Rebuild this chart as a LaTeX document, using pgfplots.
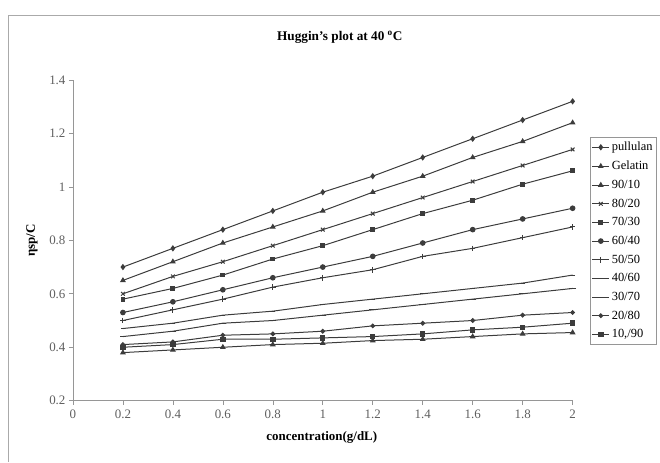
\documentclass[border=0pt]{standalone}
\usepackage{fontspec}
\setmainfont{Liberation Serif}
\usepackage{pgfplots}
\pgfplotsset{compat=1.18}
\definecolor{ln}{RGB}{60,60,60}
\definecolor{ax}{RGB}{150,150,150}
\definecolor{tk}{RGB}{95,95,95}
\definecolor{fr}{RGB}{170,170,170}

\begin{document}
\begin{tikzpicture}[x=1bp,y=1bp]
\path (0,0) rectangle (660,462);
% chart frame (cut at the right and bottom edges)
\draw[fr, line width=0.9bp] (8,0) -- (8,447) -- (660,447);
\begin{axis}[
    at={(73bp,61bp)}, anchor=south west,
    scale only axis, width=500bp, height=321bp,
    xmin=0, xmax=2, ymin=0.2, ymax=1.4,
    xtick={0,0.2,0.4,0.6,0.8,1,1.2,1.4,1.6,1.8,2},
    xticklabels={0,0.2,0.4,0.6,0.8,1,1.2,1.4,1.6,1.8,2},
    ytick={0.2,0.4,0.6,0.8,1,1.2,1.4},
    yticklabels={0.2,0.4,0.6,0.8,1,1.2,1.4},
    axis x line*=bottom, axis y line*=left,
    axis line style={ax, line width=0.6bp, -},
    tick style={ax, line width=0.6bp},
    tick align=outside, major tick length=4bp,
    tick label style={font=\fontsize{13}{15}\selectfont, text=tk},
    xticklabel style={yshift=-2bp},
    title={\textbf{Huggin's plot at 40 \textsuperscript{o}C}},
    title style={at={(0.534,1.115)}, anchor=center, font=\fontsize{13.3}{15}\selectfont},
    xlabel={\textbf{concentration(g/dL)}},
    xlabel style={at={(0.498,-0.115)}, anchor=center, font=\fontsize{13}{15}\selectfont},
    ylabel={\textbf{ηsp/C}},
    ylabel style={at={(-0.082,0.5)}, anchor=center, font=\fontsize{13}{15}\selectfont},
    every axis plot/.append style={ln, line width=1bp},
    legend cell align=left,
    legend style={at={(1.034,0.822)}, anchor=north west, draw=ax,
        font=\fontsize{12.5}{14}\selectfont, row sep=4.9bp,
        inner xsep=2bp, inner ysep=3bp},
]
\addplot[mark=diamond*, mark size=2.4bp] coordinates {
 (0.2,0.70) (0.4,0.77) (0.6,0.84) (0.8,0.91) (1.0,0.98) (1.2,1.04) (1.4,1.11) (1.6,1.18) (1.8,1.25) (2.0,1.32)};
\addlegendentry{pullulan}
\addplot[mark=triangle*, mark size=2.4bp] coordinates {
 (0.2,0.65) (0.4,0.72) (0.6,0.79) (0.8,0.85) (1.0,0.91) (1.2,0.98) (1.4,1.04) (1.6,1.11) (1.8,1.17) (2.0,1.24)};
\addlegendentry{Gelatin}
\addplot[mark=triangle*, mark size=2.4bp] coordinates {
 (0.2,0.38) (0.4,0.39) (0.6,0.40) (0.8,0.41) (1.0,0.415) (1.2,0.425) (1.4,0.43) (1.6,0.44) (1.8,0.45) (2.0,0.455)};
\addlegendentry{90/10}
\addplot[mark=x, mark size=2.6bp] coordinates {
 (0.2,0.60) (0.4,0.665) (0.6,0.72) (0.8,0.78) (1.0,0.84) (1.2,0.90) (1.4,0.96) (1.6,1.02) (1.8,1.08) (2.0,1.14)};
\addlegendentry{80/20}
\addplot[mark=square*, mark size=1.9bp] coordinates {
 (0.2,0.58) (0.4,0.62) (0.6,0.67) (0.8,0.73) (1.0,0.78) (1.2,0.84) (1.4,0.90) (1.6,0.95) (1.8,1.01) (2.0,1.06)};
\addlegendentry{70/30}
\addplot[mark=*, mark size=2.3bp] coordinates {
 (0.2,0.53) (0.4,0.57) (0.6,0.615) (0.8,0.66) (1.0,0.70) (1.2,0.74) (1.4,0.79) (1.6,0.84) (1.8,0.88) (2.0,0.92)};
\addlegendentry{60/40}
\addplot[mark=+, mark size=2.8bp] coordinates {
 (0.2,0.50) (0.4,0.54) (0.6,0.58) (0.8,0.625) (1.0,0.66) (1.2,0.69) (1.4,0.74) (1.6,0.77) (1.8,0.81) (2.0,0.85)};
\addlegendentry{50/50}
\addplot[mark=-, mark size=2.4bp] coordinates {
 (0.2,0.47) (0.4,0.49) (0.6,0.52) (0.8,0.535) (1.0,0.56) (1.2,0.58) (1.4,0.60) (1.6,0.62) (1.8,0.64) (2.0,0.67)};
\addlegendentry{40/60}
\addplot[mark=-, mark size=3.4bp] coordinates {
 (0.2,0.44) (0.4,0.46) (0.6,0.49) (0.8,0.50) (1.0,0.52) (1.2,0.54) (1.4,0.56) (1.6,0.58) (1.8,0.60) (2.0,0.62)};
\addlegendentry{30/70}
\addplot[mark=*, mark size=1.9bp] coordinates {
 (0.2,0.41) (0.4,0.42) (0.6,0.445) (0.8,0.45) (1.0,0.46) (1.2,0.48) (1.4,0.49) (1.6,0.50) (1.8,0.52) (2.0,0.53)};
\addlegendentry{20/80}
\addplot[mark=square*, mark size=2.2bp] coordinates {
 (0.2,0.40) (0.4,0.41) (0.6,0.43) (0.8,0.43) (1.0,0.435) (1.2,0.44) (1.4,0.45) (1.6,0.465) (1.8,0.475) (2.0,0.49)};
\addlegendentry{10,/90}
\end{axis}
\end{tikzpicture}
\end{document}
